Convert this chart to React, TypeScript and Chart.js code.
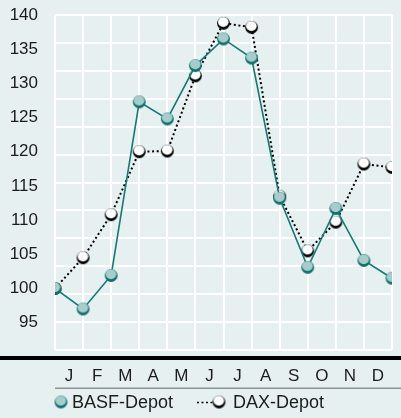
import { useEffect, useRef } from 'react';
import { Chart, registerables } from 'chart.js';

Chart.register(...registerables);

const months = ['J', 'F', 'M', 'A', 'M', 'J', 'J', 'A', 'S', 'O', 'N', 'D'];
const steps = [0, 1, 2, 3, 4, 5, 6, 7, 8, 9, 10, 11, 12];
const basfValues = [100, 97, 101.9, 127.3, 124.8, 132.6, 136.5, 133.7, 113.2, 103.1, 111.7, 104.1, 101.5];
const daxValues = [100, 104.5, 110.8, 120.0, 120.1, 131.1, 138.8, 138.2, 113.5, 105.5, 109.7, 118.2, 117.7];
const yTickValues = [95, 100, 105, 110, 115, 120, 125, 130, 135, 140];
const seriesNames = ['BASF-Depot', 'DAX-Depot'];

const BG = '#e7f0f0';
const TEAL_LINE = '#167878';
const TEAL_DARK = '#0e6f6f';
const TEAL_LIGHT = '#a7cccc';
const TEXT = '#1c1c1c';
const FONT = '"Liberation Sans", Arial, Helvetica, sans-serif';

function makeBall(dark: string, light: string): HTMLCanvasElement {
  const c = document.createElement('canvas');
  c.width = 15;
  c.height = 15;
  const g = c.getContext('2d')!;
  g.fillStyle = dark;
  g.beginPath();
  g.arc(7.5, 7.5, 6.4, 0, Math.PI * 2);
  g.fill();
  g.fillStyle = light;
  g.beginPath();
  g.ellipse(7.3, 6.3, 5.3, 5.0, 0, 0, Math.PI * 2);
  g.fill();
  return c;
}

export default function App() {
  const ref = useRef<HTMLCanvasElement>(null);

  useEffect(() => {
    const canvas = ref.current!;
    const basfBall = makeBall(TEAL_DARK, TEAL_LIGHT);
    const daxBall = makeBall('#000000', '#ffffff');

    const bgPlugin = {
      id: 'bg',
      beforeDraw(chart: any) {
        const ctx = chart.ctx;
        ctx.save();
        ctx.fillStyle = BG;
        ctx.fillRect(0, 0, chart.width, chart.height);
        ctx.restore();
      },
    };

    const decoPlugin = {
      id: 'deco',
      afterDraw(chart: any) {
        const ctx = chart.ctx;
        const area = chart.chartArea;
        ctx.save();
        ctx.fillStyle = '#000000';
        ctx.fillRect(0, area.bottom + 6, chart.width, 4);
        ctx.fillStyle = '#8c9494';
        ctx.fillRect(area.left, 387.5, chart.width - area.left, 1.5);
        const ly = 402;
        ctx.font = `18px ${FONT}`;
        ctx.fillStyle = TEXT;
        ctx.textBaseline = 'middle';
        ctx.textAlign = 'left';
        ctx.drawImage(basfBall, 61 - 7.5, ly - 7.5);
        ctx.fillText(seriesNames[0], 72, ly + 1);
        ctx.strokeStyle = '#000000';
        ctx.lineWidth = 1.6;
        ctx.setLineDash([2, 2.5]);
        ctx.beginPath();
        ctx.moveTo(197, ly + 0.5);
        ctx.lineTo(213, ly + 0.5);
        ctx.stroke();
        ctx.setLineDash([]);
        ctx.drawImage(daxBall, 219 - 7.5, ly - 7.5);
        ctx.fillText(seriesNames[1], 233, ly + 1);
        ctx.restore();
      },
    };

    const chart = new Chart(canvas, {
      type: 'line',
      data: {
        datasets: [
          {
            label: seriesNames[0],
            data: steps.map((s, i) => ({ x: s, y: basfValues[i] })),
            borderColor: TEAL_LINE,
            borderWidth: 1.6,
            pointStyle: basfBall as any,
            pointRadius: 6,
            pointHoverRadius: 6,
            fill: false,
            tension: 0,
            xAxisID: 'x',
            yAxisID: 'y',
          },
          {
            label: seriesNames[1],
            data: steps.map((s, i) => ({ x: s, y: daxValues[i] })),
            borderColor: '#000000',
            borderWidth: 2,
            borderDash: [2, 2.6],
            pointStyle: daxBall as any,
            pointRadius: 6,
            pointHoverRadius: 6,
            fill: false,
            tension: 0,
            xAxisID: 'x',
            yAxisID: 'y',
          },
        ],
      },
      options: {
        animation: false,
        responsive: false,
        devicePixelRatio: 1,
        layout: { padding: { top: 15, right: 9, left: 0, bottom: 0 } },
        plugins: {
          legend: { display: false },
          tooltip: { enabled: false },
        },
        scales: {
          x: {
            type: 'linear',
            position: 'bottom',
            min: 0,
            max: 12,
            ticks: { display: false, stepSize: 1 },
            grid: { color: '#ffffff', lineWidth: 2, drawTicks: false },
            border: { display: false },
          },
          xl: {
            type: 'category',
            position: 'bottom',
            labels: months,
            offset: true,
            grid: { display: false, drawTicks: false },
            border: { display: false },
            ticks: {
              color: TEXT,
              font: { family: FONT, size: 17 },
              padding: 16,
              maxRotation: 0,
              autoSkip: false,
            },
            afterFit(scale: any) {
              scale.height = 68;
            },
          },
          y: {
            type: 'linear',
            position: 'left',
            min: 91,
            max: 140,
            grid: { display: false, drawTicks: false },
            border: { display: false },
            ticks: {
              color: TEXT,
              font: { family: FONT, size: 17 },
              padding: 17,
            },
            afterBuildTicks(scale: any) {
              scale.ticks = yTickValues.map((v) => ({ value: v }));
            },
            afterFit(scale: any) {
              scale.width = 55;
              scale.paddingTop = 0;
              scale.paddingBottom = 0;
            },
          },
          yg: {
            type: 'linear',
            position: 'left',
            min: 0,
            max: 12,
            ticks: { display: false, stepSize: 1 },
            grid: { color: '#ffffff', lineWidth: 2, drawTicks: false },
            border: { display: false },
            afterFit(scale: any) {
              scale.width = 0;
              scale.paddingTop = 0;
              scale.paddingBottom = 0;
            },
          },
        },
      },
      plugins: [bgPlugin, decoPlugin],
    });

    return () => chart.destroy();
  }, []);

  return (
    <div style={{ position: 'fixed', left: 0, top: 0, width: 401, height: 418, background: BG }}>
      <canvas ref={ref} width={401} height={418} style={{ display: 'block' }} />
    </div>
  );
}
